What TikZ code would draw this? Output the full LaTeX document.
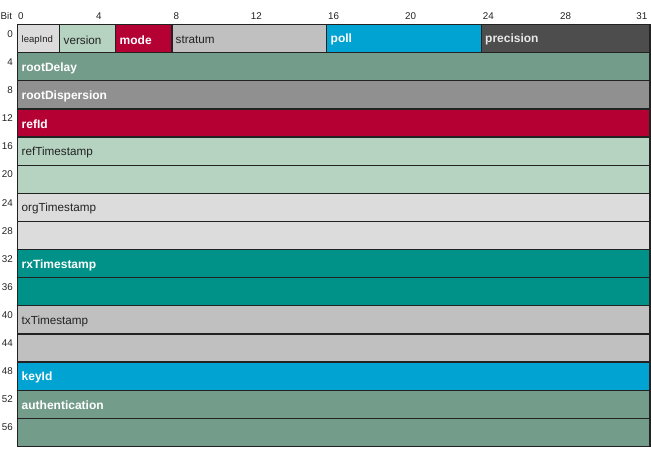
\documentclass[tikz,border=0pt]{standalone}
\usepackage{fontspec}
\setmainfont{Liberation Sans}
\definecolor{cLight}{HTML}{DCDCDC}
\definecolor{cMint}{HTML}{B5D3C0}
\definecolor{cRed}{HTML}{B50033}
\definecolor{cGray}{HTML}{C0C0C0}
\definecolor{cBlue}{HTML}{00A3D2}
\definecolor{cDark}{HTML}{4D4D4D}
\definecolor{cSage}{HTML}{739D8A}
\definecolor{cMid}{HTML}{909090}
\definecolor{cTeal}{HTML}{009188}
\definecolor{cLine}{HTML}{222222}
\definecolor{cText}{HTML}{222222}
\definecolor{cWhite}{HTML}{F4F4F4}
\tikzset{
  fieldbox/.style={draw=cLine, line width=1.3pt},
  lbl/.style={anchor=west, inner sep=0pt, font=\fontsize{12}{14}\selectfont\bfseries, text=white},
  lbln/.style={anchor=west, inner sep=0pt, font=\fontsize{11.7}{14}\selectfont, text=cText},
  tick/.style={inner sep=0pt, font=\fontsize{9.8}{11}\selectfont, text=cText},
}
\begin{document}
\begin{tikzpicture}[x=1pt,y=-1pt]
\useasboundingbox (0,0) rectangle (651,460);
\def\rh{28.13}
\def\dy{1.3}
% header
\node[tick, anchor=west] (bit) at (0.5,15.8) {Bit};
\node[tick, anchor=west] (t0) at (18,15.8) {0};
\node[tick, anchor=west] (t4) at (96,15.8) {4};
\node[tick, anchor=west] (t8) at (173.5,15.8) {8};
\node[tick, anchor=west] (t12) at (250.7,15.8) {12};
\node[tick, anchor=west] (t16) at (328,15.8) {16};
\node[tick, anchor=west] (t20) at (405,15.8) {20};
\node[tick, anchor=west] (t24) at (482.7,15.8) {24};
\node[tick, anchor=west] (t28) at (560,15.8) {28};
\node[tick, anchor=east] (t31) at (647.5,15.8) {31};
% row labels
\foreach \i/\v in {0/0,1/4,2/8,3/12,4/16,5/20,6/24,7/28,8/32,9/36,10/40,11/44,12/48,13/52,14/56}{
  \node[tick, anchor=east] (r\i) at (13,{24.5+\i*\rh+9.3}) {\v};
}
% first row
\def\ya{24.5}
\pgfmathsetmacro\yb{24.5+\rh}
\draw[fieldbox, fill=cLight] (17.7,\ya) rectangle (59.7,\yb);
\draw[fieldbox, fill=cMint] (59.7,\ya) rectangle (115.7,\yb);
\draw[fieldbox, fill=cRed] (115.7,\ya) rectangle (172,\yb);
\draw[fieldbox, fill=cGray] (172,\ya) rectangle (326.7,\yb);
\draw[fieldbox, fill=cBlue] (326.7,\ya) rectangle (481.3,\yb);
\draw[fieldbox, fill=cDark] (481.3,\ya) rectangle (650,\yb);
\pgfmathsetmacro\yc{24.5+\rh/2+\dy}
\node[lbln, font=\fontsize{9.5}{11}\selectfont] (leap) at (21.5,\yc) {leapInd};
\node[lbln] (ver) at (63.5,\yc) {version};
\node[lbl] (mode) at (119.5,\yc) {mode};
\node[lbln] (strat) at (175.5,\yc) {stratum};
\node[lbl] (poll) at (330.5,\yc) {poll};
\node[lbl, text=cWhite!90!gray] (prec) at (485,\yc) {precision};
% full rows
\foreach \i/\c in {1/cSage,2/cMid,3/cRed,4/cMint,5/cMint,6/cLight,7/cLight,8/cTeal,9/cTeal,10/cGray,11/cGray,12/cBlue,13/cSage,14/cSage}{
  \draw[fieldbox, fill=\c] (17.7,{24.5+\i*\rh}) rectangle (650,{24.5+(\i+1)*\rh});
}
\node[lbl] (rd) at (21.5,{24.5+1.5*\rh+\dy}) {rootDelay};
\node[lbl] (rdisp) at (21.5,{24.5+2.5*\rh+\dy}) {rootDispersion};
\node[lbl] (refid) at (21.5,{24.5+3.5*\rh+\dy}) {refId};
\node[lbln] (reft) at (21.5,{24.5+4.5*\rh+\dy}) {refTimestamp};
\node[lbln] (orgt) at (21.5,{24.5+6.5*\rh+\dy}) {orgTimestamp};
\node[lbl] (rxt) at (21.5,{24.5+8.5*\rh+\dy}) {rxTimestamp};
\node[lbln] (txt) at (21.5,{24.5+10.5*\rh+\dy}) {txTimestamp};
\node[lbl] (key) at (21.5,{24.5+12.5*\rh+\dy}) {keyId};
\node[lbl] (auth) at (21.5,{24.5+13.5*\rh+\dy}) {authentication};
\end{tikzpicture}
\end{document}
